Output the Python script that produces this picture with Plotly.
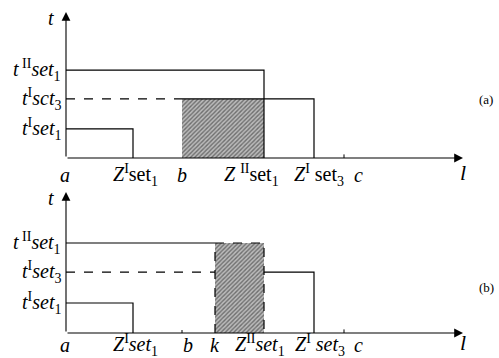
import plotly.graph_objects as go

# ---- data (x positions along l, in chart units) ----
x_names = ["a", "Z1set1", "b", "k", "Z2set1", "Z1set3", "c", "l_end"]
x_pos = [0.0, 1.34, 2.32, 2.98, 3.96, 4.96, 5.56, 7.94]
X = dict(zip(x_names, x_pos))

# time levels for each panel
t_levels_a = {"tI1": 0.97, "tI3": 1.97, "tII": 2.93, "top": 4.87}
t_levels_b = {"tI1": 1.0, "tI3": 2.03, "tII": 3.0, "top": 4.7}

# tick labels
xlabels_a = ["<i>a</i>", "<i>Z</i><sup>I</sup>set<sub>1</sub>", "<i>b</i>",
             "<i>Z</i> <sup>II</sup>set<sub>1</sub>", "<i>Z</i><sup>I</sup> set<sub>3</sub>", "<i>c</i>"]
xlabels_a_px = [65, 135, 182, 251, 319, 358]
xlabels_b = ["<i>a</i>", "<i>Z</i><sup>I</sup><i>set</i><sub>1</sub>", "<i>b</i>", "<i>k</i>",
             "<i>Z</i><sup>II</sup><i>set</i><sub>1</sub>", "<i>Z</i><sup>I</sup> <i>set</i><sub>3</sub>", "<i>c</i>"]
xlabels_b_px = [65, 135, 188, 215, 260, 320, 358]
ylabels_a = ["<i>t</i><sup>I</sup><i>set</i><sub>1</sub>", "<i>t</i><sup>I</sup><i>sct</i><sub>3</sub>",
             "<i>t</i><sup> II</sup><i>set</i><sub>1</sub>"]
ylabels_b = ["<i>t</i><sup>I</sup><i>set</i><sub>1</sub>", "<i>t</i><sup>I</sup><i>set</i><sub>3</sub>",
             "<i>t</i><sup> II</sup><i>set</i><sub>1</sub>"]

FONT = "Liberation Serif, Times New Roman, DejaVu Serif, serif"
K = "black"

fig = go.Figure()

def line(xs, ys, ax, dash="solid", w=1.2):
    fig.add_trace(go.Scatter(x=xs, y=ys, mode="lines", xaxis=ax[0], yaxis=ax[1],
                             line=dict(color=K, width=w, dash=dash),
                             hoverinfo="skip", showlegend=False))

def hatch(x0, x1, top, ax):
    fig.add_trace(go.Bar(x=[(x0 + x1) / 2], y=[top], base=[0], width=[x1 - x0],
                         xaxis=ax[0], yaxis=ax[1], showlegend=False, hoverinfo="skip",
                         marker=dict(color="white", line=dict(width=0),
                                     pattern=dict(shape="/", fgcolor="#222", bgcolor="#bbb",
                                                  size=3, solidity=0.45))))

A = ("x", "y")
B = ("x2", "y2")
ta, tb = t_levels_a, t_levels_b

# ---- panel (a) ----
hatch(X["b"], X["Z2set1"], ta["tI3"], A)
line([X["a"], X["Z2set1"], X["Z2set1"]], [ta["tII"], ta["tII"], 0], A)
line([X["a"], X["b"]], [ta["tI3"], ta["tI3"]], A, dash="dash")
line([X["b"], X["Z1set3"], X["Z1set3"]], [ta["tI3"], ta["tI3"], 0], A)
line([X["a"], X["Z1set1"], X["Z1set1"]], [ta["tI1"], ta["tI1"], 0], A)
line([X["c"], X["c"]], [0, 0.12], A, w=1)

# ---- panel (b) ----
hatch(X["k"], X["Z2set1"], tb["tII"], B)
line([X["a"], X["k"]], [tb["tII"], tb["tII"]], B)
line([X["k"], X["k"], X["Z2set1"], X["Z2set1"]], [0, tb["tII"], tb["tII"], 0], B, dash="dash")
line([X["a"], X["k"]], [tb["tI3"], tb["tI3"]], B, dash="dash")
line([X["Z2set1"], X["Z1set3"], X["Z1set3"]], [tb["tI3"], tb["tI3"], 0], B)
line([X["a"], X["Z1set1"], X["Z1set1"]], [tb["tI1"], tb["tI1"], 0], B)
line([X["b"], X["b"]], [0, 0.1], B, w=1)
line([X["c"], X["c"]], [0, 0.12], B, w=1)

ann = []
def px2x(p):
    return (p - 66) / 50.0

for ax, t, xl, xlp, yl, ysh, tag, tagy in [
        (A, ta, xlabels_a, xlabels_a_px, ylabels_a, -17, "(a)", 1.95),
        (B, tb, xlabels_b, xlabels_b_px, ylabels_b, -12, "(b)", 1.53)]:
    xr, yr = ax
    # axes with arrows
    ann.append(dict(x=X["l_end"], y=0, ax=X["a"], ay=0, xref=xr, yref=yr, axref=xr, ayref=yr,
                    text="", showarrow=True, arrowhead=2, arrowsize=1.6, arrowwidth=1.1,
                    arrowcolor=K))
    ann.append(dict(x=X["a"], y=t["top"], ax=X["a"], ay=0, xref=xr, yref=yr, axref=xr, ayref=yr,
                    text="", showarrow=True, arrowhead=2, arrowsize=1.6, arrowwidth=1.1,
                    arrowcolor=K))
    # x labels
    for txt, p in zip(xl, xlp):
        ann.append(dict(x=px2x(p), y=0, xref=xr, yref=yr, text=txt, showarrow=False,
                        yshift=ysh, xanchor="center", yanchor="middle",
                        font=dict(family=FONT, size=20, color=K)))
    # y labels
    for txt, key in zip(yl, ["tI1", "tI3", "tII"]):
        ann.append(dict(x=-0.06, y=t[key], xref=xr, yref=yr, text=txt, showarrow=False,
                        xanchor="right", yanchor="middle",
                        font=dict(family=FONT, size=20, color=K)))
    # axis names
    ann.append(dict(x=-0.3, y=t["top"] - 0.2, xref=xr, yref=yr, text="<i>t</i>", showarrow=False,
                    xanchor="center", yanchor="middle", font=dict(family=FONT, size=20, color=K)))
    ann.append(dict(x=X["l_end"], y=0, xref=xr, yref=yr, text="<i>l</i>", showarrow=False,
                    yshift=ysh + 3, xanchor="center", yanchor="middle",
                    font=dict(family=FONT, size=22, color=K)))
    ann.append(dict(x=px2x(486), y=tagy, xref=xr, yref=yr, text=tag, showarrow=False,
                    xanchor="center", yanchor="middle", font=dict(family=FONT, size=13, color=K)))

ax_common = dict(visible=False, showgrid=False, zeroline=False, fixedrange=True)
fig.update_layout(
    width=499, height=358, margin=dict(l=0, r=0, t=0, b=0),
    paper_bgcolor="white", plot_bgcolor="white", barmode="overlay", bargap=0,
    showlegend=False, annotations=ann, font=dict(family=FONT),
    xaxis=dict(ax_common, range=[px2x(0), px2x(499)], domain=[0, 1], anchor="y"),
    yaxis=dict(ax_common, range=[-22 / 30, 158 / 30], domain=[1 - 180 / 358, 1], anchor="x"),
    xaxis2=dict(ax_common, range=[px2x(0), px2x(499)], domain=[0, 1], anchor="y2"),
    yaxis2=dict(ax_common, range=[-25 / 30, 153 / 30], domain=[0, 1 - 180 / 358], anchor="x2"),
)

fig.write_html("out.html", config={"displayModeBar": False},
               post_script="document.body.style.margin='0';document.body.style.overflow='hidden';")
